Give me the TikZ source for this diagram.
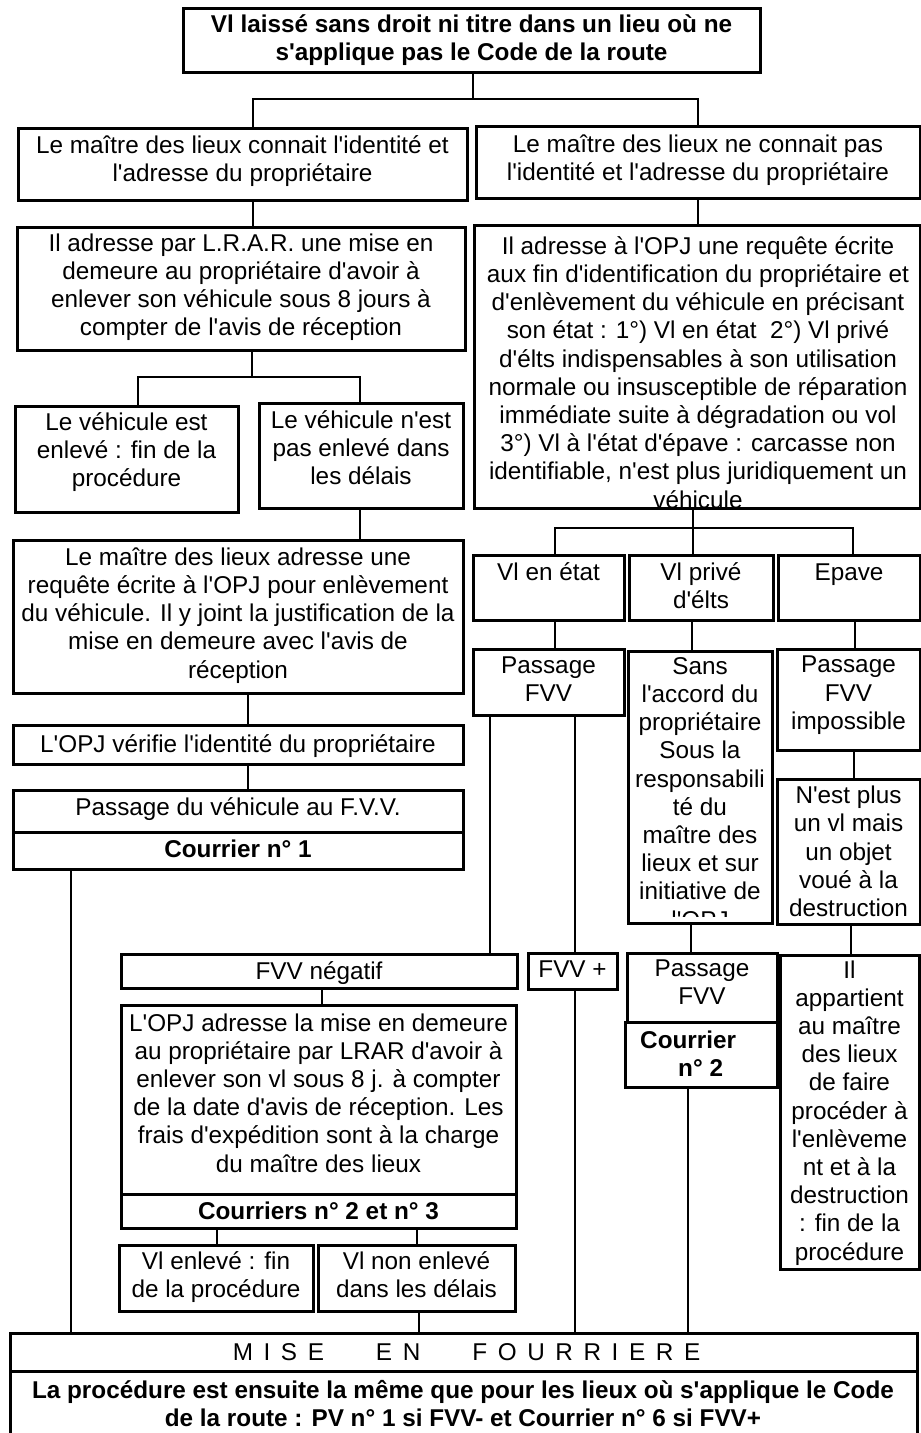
\documentclass[tikz,border=0pt]{standalone}
\usepackage{fontspec}
\newfontfamily\arialf{Liberation Sans}
\newcommand\lsp{\hspace{10.6pt}}
\newcommand\boxn[5]{\node[bx, minimum width={(#4)-(#2)}, minimum height={(#5)-(#3)}] (#1) at ({((#2)+(#4))/2},{((#3)+(#5))/2}) {};}
\newcommand\txtn[5][tx]{\node[#1] (#2) at (#3,{#4+2}) {#5};}
\newcommand\vc[3]{\coordinate (vx) at (#3,0); \draw[cn] (#1.south -| vx) -- (#2.north -| vx);}
\begin{document}
\begin{tikzpicture}[x=1pt,y=-1pt,
 bx/.style={draw, line width=3pt, inner sep=0pt, outer sep=0pt},
 cn/.style={line width=2.6pt},
 tx/.style={inner sep=0pt, align=center, font=\arialf\fontsize{24.3}{28.2}\selectfont, execute at begin node=\strut, execute at end node=\strut},
 tb/.style={tx, font=\arialf\bfseries\fontsize{24.3}{28.2}\selectfont}]
\useasboundingbox (0,0) rectangle (921,1433);

% ---------- boxes ----------
\boxn{T}{183}{8}{760}{72}
\boxn{A1}{18}{128}{467}{200}
\boxn{B1}{476}{126}{920}{198}
\boxn{A2}{17}{227}{465}{350}
\boxn{B2}{474}{225}{920}{508}
\boxn{A3}{15}{406}{238}{512}
\boxn{A4}{259}{403}{463}{508}
\boxn{A5}{13}{540}{463}{693}
\boxn{A6}{13}{725}{463}{764}
\boxn{A7}{13}{790}{463}{832}
\boxn{A8}{13}{832}{463}{869}
\boxn{B3}{473}{555}{624}{620}
\boxn{B4}{629}{555}{773}{620}
\boxn{B5}{778}{555}{920}{620}
\boxn{B6}{473}{649}{624}{715}
\boxn{B7}{628}{651}{772}{923}
\boxn{B8}{777}{649}{920}{750}
\boxn{B9}{777}{779}{920}{924}
\boxn{C1}{121}{954}{517}{988}
\boxn{C2}{121}{1005}{516}{1194}
\boxn{C3}{121}{1194}{516}{1228}
\boxn{C4}{119}{1245}{313}{1311}
\boxn{C5}{318}{1245}{515}{1311}
\boxn{B10}{528}{953}{617}{989}
\boxn{B11}{627}{953}{777}{1022}
\boxn{B12}{625}{1022}{777}{1087}
\boxn{B13}{780}{955}{919}{1269}
\boxn{D1}{10}{1333}{917}{1371}
\boxn{D2}{10}{1371}{917}{1450}

% ---------- texts ----------
\txtn[tb]{tT}{471.5}{40}{Vl laissé sans droit ni titre dans un lieu où ne\\s'applique pas le Code de la route}
\txtn{tA1}{242.5}{160.5}{Le maître des lieux connait l'identité et\\l'adresse du propriétaire}
\txtn{tB1}{698}{160}{Le maître des lieux ne connait pas\\l'identité et l'adresse du propriétaire}
\txtn{tA2}{241}{287}{Il adresse par L.R.A.R. une mise en\\demeure au propriétaire d'avoir à\\enlever son véhicule sous 8 jours à\\compter de l'avis de réception}
\txtn{tB2}{698}{374.5}{Il adresse à l'OPJ une requête écrite\\aux fin d'identification du propriétaire et\\d'enlèvement du véhicule en précisant\\son état : 1°) Vl en état\ \ 2°) Vl privé\\d'élts indispensables à son utilisation\\normale ou insusceptible de réparation\\immédiate suite à dégradation ou vol\\3°) Vl à l'état d'épave : carcasse non\\identifiable, n'est plus juridiquement un\\véhicule}
\txtn{tA3}{126.5}{451.7}{Le véhicule est\\enlevé : fin de la\\procédure}
\txtn{tA4}{361}{450}{Le véhicule n'est\\pas enlevé dans\\les délais}
\txtn{tA5}{238}{615}{Le maître des lieux adresse une\\requête écrite à l'OPJ pour enlèvement\\du véhicule. Il y joint la justification de la\\mise en demeure avec l'avis de\\réception}
\txtn{tA6}{238}{744.5}{L'OPJ vérifie l'identité du propriétaire}
\txtn{tA7}{238}{808}{Passage du véhicule au F.V.V.}
\txtn[tb]{tA8}{238}{850}{Courrier n° 1}
\txtn{tB3}{548.5}{573}{Vl en état}
\txtn{tB4}{701}{587.5}{Vl privé\\d'élts}
\txtn{tB5}{849}{573}{Epave}
\txtn{tB6}{548.5}{681}{Passage\\FVV}
\begin{scope}
\clip (628,651) rectangle (772,916);
\txtn{tB7}{700}{795}{Sans\\l'accord du\\propriétaire\\Sous la\\responsabili\\té du\\maître des\\lieux et sur\\initiative de\\l'OPJ}
\end{scope}
\txtn{tB8}{848.5}{695}{Passage\\FVV\\impossible}
\txtn{tB9}{848.5}{853.5}{N'est plus\\un vl mais\\un objet\\voué à la\\destruction}
\txtn{tC1}{319}{972}{FVV négatif}
\txtn{tC2}{318.5}{1095}{L'OPJ adresse la mise en demeure\\au propriétaire par LRAR d'avoir à\\enlever son vl sous 8 j. à compter\\de la date d'avis de réception. Les\\frais d'expédition sont à la charge\\du maître des lieux}
\txtn[tb]{tC3}{318.5}{1212}{Courriers n° 2 et n° 3}
\txtn{tC4}{216}{1277}{Vl enlevé : fin\\de la procédure}
\txtn{tC5}{416.5}{1277}{Vl non enlevé\\dans les délais}
\txtn{tB10}{572.5}{970}{FVV +}
\txtn{tB11}{702}{984}{Passage\\FVV}
\node[tb, align=left, anchor=west] (tB12) at (640,1058) {Courrier\\\hspace*{38pt}n° 2};
\txtn{tB13}{849.5}{1112.5}{Il\\appartient\\au maître\\des lieux\\de faire\\procéder à\\l'enlèveme\\nt et à la\\destruction\\: fin de la\\procédure}
\txtn{tD1}{466.5}{1353}{M\lsp I\lsp S\lsp E\hspace{52pt}E\lsp N\hspace{52pt}F\lsp O\lsp U\lsp R\lsp R\lsp I\lsp E\lsp R\lsp E}
\txtn[tb]{tD2}{463}{1406}{La procédure est ensuite la même que pour les lieux où s'applique le Code\\de la route : PV n° 1 si FVV- et Courrier n° 6 si FVV+}

% ---------- connectors ----------
\coordinate (jT) at (473,99);
\coordinate (jTa) at (253,99);
\coordinate (jTb) at (698,99);
\draw[cn] (T.south -| jT) -- (jT);
\draw[cn] (A1.north -| jTa) -- (jTa) -- (jTb) -- (B1.north -| jTb);
\vc{A1}{A2}{253}
\vc{B1}{B2}{698}
\coordinate (jA) at (252,377);
\coordinate (jAa) at (138,377);
\coordinate (jAb) at (360,377);
\draw[cn] (A2.south -| jA) -- (jA);
\draw[cn] (A3.north -| jAa) -- (jAa) -- (jAb) -- (A4.north -| jAb);
\vc{A4}{A5}{360}
\vc{A5}{A6}{248}
\vc{A6}{A7}{248}
\vc{A8}{D1}{71}
\coordinate (jB) at (693,528);
\coordinate (jBa) at (555,528);
\coordinate (jBb) at (853,528);
\draw[cn] (B2.south -| jB) -- (jB);
\draw[cn] (B3.north -| jBa) -- (jBa) -- (jBb) -- (B5.north -| jBb);
\draw[cn] (jB) -- (B4.north -| jB);
\vc{B3}{B6}{555}
\vc{B4}{B7}{692}
\vc{B5}{B8}{855}
\vc{B6}{C1}{490}
\vc{B6}{B10}{575}
\vc{B10}{D1}{575}
\vc{B7}{B11}{691}
\vc{B8}{B9}{854}
\vc{B9}{B13}{851}
\vc{B12}{D1}{688}
\vc{C1}{C2}{322}
\vc{C3}{C4}{217}
\vc{C3}{C5}{417}
\vc{C5}{D1}{419}
\end{tikzpicture}
\end{document}
